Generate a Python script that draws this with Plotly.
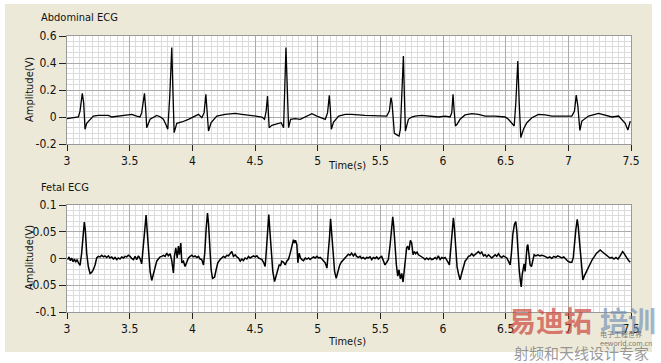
import plotly.graph_objects as go

# ---------------- data ----------------
abd_t = [3.000, 3.037, 3.091, 3.104, 3.122, 3.133, 3.144, 3.157, 3.184, 3.210, 3.250, 3.330, 3.357, 3.423,
         3.490, 3.517, 3.556, 3.583, 3.596, 3.618, 3.628, 3.636, 3.663, 3.690, 3.716, 3.743, 3.769, 3.788,
         3.804, 3.820, 3.836, 3.844, 3.855, 3.876, 3.916, 3.969, 4.022, 4.049, 4.076, 4.094, 4.108, 4.118,
         4.129, 4.150, 4.195, 4.262, 4.342, 4.395, 4.488, 4.555, 4.576, 4.589, 4.600, 4.608, 4.613, 4.634,
         4.675, 4.709, 4.728, 4.736, 4.747, 4.757, 4.768, 4.784, 4.821, 4.861, 4.914, 4.954, 4.994, 5.061,
         5.079, 5.093, 5.101, 5.109, 5.127, 5.167, 5.220, 5.271, 5.378, 5.511, 5.551, 5.572, 5.585, 5.593,
         5.601, 5.612, 5.639, 5.649, 5.660, 5.671, 5.684, 5.692, 5.700, 5.710, 5.724, 5.750, 5.777, 5.830,
         5.910, 5.963, 6.017, 6.057, 6.070, 6.080, 6.088, 6.099, 6.112, 6.136, 6.176, 6.230, 6.283, 6.336,
         6.416, 6.496, 6.522, 6.549, 6.568, 6.581, 6.597, 6.608, 6.621, 6.642, 6.669, 6.709, 6.762, 6.815,
         6.868, 6.948, 7.028, 7.049, 7.063, 7.076, 7.092, 7.108, 7.161, 7.241, 7.294, 7.348, 7.401, 7.427,
         7.454, 7.475, 7.486, 7.494]
abd_v = [-0.012, -0.005, 0.000, 0.044, 0.175, 0.106, -0.091, -0.047, -0.017, 0.007, 0.012, 0.012, 0.000, 0.007,
         0.012, 0.020, 0.007, 0.000, 0.032, 0.175, 0.057, -0.079, -0.017, 0.000, 0.012, 0.002, -0.017, -0.054,
         -0.091, 0.156, 0.514, 0.230, -0.116, -0.047, -0.037, -0.017, 0.007, 0.020, -0.005, 0.032, 0.168, 0.057,
         -0.104, -0.042, 0.007, 0.020, 0.027, 0.020, 0.007, 0.000, -0.017, 0.044, 0.156, 0.032, -0.079, -0.062,
         -0.054, -0.042, -0.079, 0.156, 0.514, 0.230, -0.079, -0.017, -0.012, -0.017, 0.007, 0.025, 0.007, -0.017,
         0.032, 0.160, 0.057, -0.091, -0.037, 0.007, 0.020, 0.020, 0.012, 0.007, 0.007, 0.044, 0.143, 0.106,
         -0.012, -0.121, -0.136, -0.141, -0.091, 0.156, 0.452, 0.156, -0.104, -0.067, -0.017, 0.000, 0.007, 0.012,
         0.007, 0.000, 0.007, 0.000, 0.032, 0.168, 0.057, -0.067, -0.054, -0.017, 0.015, 0.025, 0.020, 0.007,
         0.007, 0.000, -0.017, -0.042, -0.067, 0.106, 0.415, 0.106, -0.153, -0.091, -0.042, -0.005, 0.020, 0.015,
         0.007, 0.007, 0.007, 0.044, 0.163, 0.081, -0.099, -0.030, 0.007, 0.027, 0.012, 0.000, 0.007, -0.017,
         -0.047, -0.096, -0.047, -0.030]

fet_t = [3.005, 3.016, 3.027, 3.037, 3.048, 3.059, 3.069, 3.080, 3.091, 3.104, 3.117, 3.128, 3.138, 3.146,
         3.157, 3.170, 3.184, 3.197, 3.210, 3.224, 3.237, 3.250, 3.264, 3.277, 3.290, 3.303, 3.317, 3.330,
         3.343, 3.357, 3.370, 3.383, 3.397, 3.410, 3.423, 3.437, 3.450, 3.463, 3.476, 3.490, 3.503, 3.516,
         3.530, 3.543, 3.556, 3.570, 3.583, 3.596, 3.607, 3.618, 3.631, 3.639, 3.650, 3.663, 3.676, 3.689,
         3.703, 3.716, 3.729, 3.743, 3.756, 3.769, 3.783, 3.796, 3.809, 3.823, 3.836, 3.849, 3.857, 3.868,
         3.879, 3.889, 3.897, 3.908, 3.916, 3.929, 3.942, 3.956, 3.969, 3.982, 3.996, 4.009, 4.022, 4.036,
         4.049, 4.062, 4.075, 4.089, 4.099, 4.110, 4.121, 4.129, 4.139, 4.150, 4.161, 4.177, 4.190, 4.203,
         4.222, 4.235, 4.248, 4.262, 4.275, 4.288, 4.302, 4.315, 4.328, 4.342, 4.355, 4.368, 4.382, 4.395,
         4.408, 4.421, 4.435, 4.448, 4.461, 4.475, 4.488, 4.501, 4.515, 4.528, 4.541, 4.555, 4.568, 4.581,
         4.589, 4.600, 4.610, 4.618, 4.629, 4.642, 4.656, 4.669, 4.682, 4.693, 4.704, 4.714, 4.728, 4.741,
         4.754, 4.768, 4.781, 4.789, 4.800, 4.807, 4.815, 4.823, 4.834, 4.842, 4.852, 4.863, 4.874, 4.887,
         4.901, 4.914, 4.927, 4.940, 4.954, 4.967, 4.980, 4.994, 5.007, 5.020, 5.034, 5.047, 5.060, 5.074,
         5.084, 5.095, 5.103, 5.111, 5.122, 5.135, 5.148, 5.162, 5.175, 5.188, 5.207,
         5.218, 5.231, 5.245, 5.258, 5.271, 5.285, 5.298, 5.311, 5.324, 5.338, 5.351, 5.364, 5.378, 5.391,
         5.404, 5.418, 5.431, 5.444, 5.458, 5.471, 5.484, 5.498, 5.511, 5.524, 5.537, 5.551, 5.564, 5.577,
         5.588, 5.599, 5.607, 5.617, 5.628, 5.639, 5.649, 5.660, 5.671, 5.681, 5.692, 5.702, 5.710, 5.718,
         5.729, 5.740, 5.750, 5.761, 5.772, 5.782, 5.793, 5.804, 5.817, 5.830, 5.844, 5.857, 5.870, 5.884,
         5.897, 5.910, 5.923, 5.937, 5.950, 5.963, 5.977, 5.990, 6.003, 6.017, 6.030, 6.043, 6.051, 6.062,
         6.073, 6.083, 6.091, 6.102, 6.112, 6.123, 6.136, 6.150, 6.163, 6.176, 6.190, 6.203, 6.216, 6.230,
         6.243, 6.256, 6.269, 6.283, 6.296, 6.309, 6.323, 6.336, 6.349, 6.363, 6.376, 6.389, 6.403, 6.416,
         6.429, 6.443, 6.456, 6.469, 6.482, 6.496, 6.509, 6.522, 6.536, 6.546, 6.557, 6.570, 6.581, 6.589,
         6.597, 6.608, 6.618, 6.624, 6.632, 6.640, 6.647, 6.655, 6.663, 6.671, 6.677, 6.685, 6.695, 6.706,
         6.717, 6.727, 6.741, 6.757, 6.773, 6.789, 6.805, 6.820, 6.836, 6.852, 6.868, 6.884, 6.900, 6.916,
         6.932, 6.948, 6.964, 6.980, 6.996, 7.012, 7.028, 7.039, 7.049, 7.060, 7.071, 7.079, 7.089, 7.100,
         7.108, 7.116, 7.129, 7.145, 7.161, 7.177, 7.193, 7.209, 7.225, 7.241, 7.254, 7.268, 7.284, 7.300,
         7.316, 7.332, 7.348, 7.364, 7.380, 7.396, 7.411, 7.422, 7.433, 7.443, 7.454, 7.467, 7.481, 7.494]
fet_v = [-0.002, 0.003, -0.004, 0.001, -0.006, -0.001, -0.007, -0.002, -0.008, -0.013, 0.010, 0.045, 0.068, 0.054,
         0.010, -0.015, -0.028, -0.026, -0.021, -0.012, 0.001, 0.004, 0.003, 0.006, 0.003, 0.005, 0.002, 0.005,
         0.001, 0.003, -0.001, 0.002, -0.002, 0.001, -0.001, 0.003, 0.001, 0.004, 0.003, 0.006, 0.004, 0.000,
         -0.002, 0.004, -0.002, 0.005, 0.000, -0.010, 0.017, 0.054, 0.081, 0.054, 0.010, -0.024, -0.041, -0.030,
         -0.013, -0.005, -0.001, 0.003, 0.004, 0.006, 0.004, 0.010, 0.005, 0.009, -0.004, -0.027, 0.004, 0.020,
         0.001, 0.023, 0.007, 0.029, -0.008, -0.005, -0.015, -0.005, 0.001, 0.004, 0.006, 0.003, 0.005, 0.002,
         0.004, -0.001, -0.002, -0.012, 0.010, 0.054, 0.085, 0.066, 0.010, -0.021, -0.037, -0.035, -0.021, -0.008,
         -0.002, 0.001, 0.004, 0.002, 0.006, 0.005, 0.010, 0.013, 0.004, 0.007, 0.003, 0.001, -0.005, -0.001,
         -0.004, 0.001, -0.001, 0.004, 0.001, 0.003, 0.005, 0.003, 0.005, 0.001, -0.001, -0.002, -0.007, -0.015,
         0.010, 0.048, 0.082, 0.054, 0.010, -0.024, -0.043, -0.030, -0.021, -0.012, -0.013, -0.005, -0.007, -0.012,
         -0.005, -0.001, 0.010, 0.020, 0.030, 0.035, 0.029, 0.034, 0.026, -0.008, 0.010, 0.001, -0.002, -0.004,
         0.001, -0.001, 0.001, -0.002, 0.001, 0.003, 0.001, 0.004, 0.001, 0.002, -0.001, -0.005, -0.008, -0.018,
         0.004, 0.041, 0.074, 0.048, 0.010, -0.024, -0.037, -0.024, -0.013, -0.007, -0.002,
         0.001, 0.005, 0.008, 0.006, 0.010, 0.005, 0.009, 0.004, 0.002, 0.004, 0.000, 0.002, -0.001, 0.002,
         0.001, 0.003, -0.002, 0.002, 0.000, 0.003, -0.001, 0.002, 0.004, -0.004, -0.012, -0.007, -0.002, 0.023,
         0.054, 0.078, 0.060, 0.023, -0.012, -0.033, -0.021, -0.038, -0.028, -0.044, -0.021, 0.004, 0.020, 0.023,
         0.016, 0.034, 0.029, 0.007, 0.013, 0.009, 0.012, 0.007, 0.005, 0.004, 0.001, -0.002, 0.001, -0.002,
         0.001, -0.002, -0.001, 0.002, -0.001, 0.005, -0.002, 0.002, 0.000, 0.002, -0.002, -0.008, -0.012, 0.016,
         0.048, 0.076, 0.057, 0.016, -0.015, -0.028, -0.040, -0.027, -0.015, -0.005, -0.001, 0.004, 0.005, 0.009,
         0.005, 0.007, 0.010, 0.013, 0.009, 0.012, 0.005, 0.007, 0.003, 0.007, 0.004, 0.001, 0.004, 0.007,
         0.004, 0.009, 0.004, 0.002, 0.005, 0.003, 0.001, -0.005, -0.012, 0.010, 0.045, 0.064, 0.069, 0.051,
         0.016, -0.021, -0.043, -0.053, -0.030, -0.018, -0.010, -0.024, 0.004, 0.023, 0.026, 0.001, -0.012, -0.015,
         0.001, 0.007, 0.005, 0.007, 0.005, 0.006, 0.005, 0.003, 0.001, 0.003, 0.000, 0.004, 0.002, 0.005,
         0.003, 0.001, 0.003, -0.002, -0.005, -0.007, -0.007, 0.001, 0.029, 0.054, 0.073, 0.060, 0.032, -0.005,
         -0.030, -0.040, -0.032, -0.024, -0.016, -0.007, -0.001, 0.004, 0.010, 0.013, 0.016, 0.013, 0.010, 0.007,
         0.004, 0.001, 0.002, -0.001, 0.002, -0.001, 0.004, 0.009, 0.013, 0.010, 0.005, 0.001, -0.004, -0.007]

x_ticks = [3, 3.5, 4, 4.5, 5, 5.5, 6, 6.5, 7, 7.5]
x_labels = ["3", "3.5", "4", "4.5", "5", "5.5", "6", "6.5", "7", "7.5"]
abd_ticks = [-0.2, 0, 0.2, 0.4, 0.6]
abd_labels = ["-0.2", "0", "0.2", "0.4", "0.6"]
fet_ticks = [-0.1, -0.05, 0, 0.05, 0.1]
fet_labels = ["-0.1", "-0.05", "0", "0.05", "0.1"]

# ---------------- figure ----------------
FONT = "Tahoma, 'DejaVu Sans Condensed', 'Liberation Sans', Arial, sans-serif"
W, H = 661, 363
L, R, T, B = 67, 30, 36, 51
PW, PH = W - L - R, H - T - B


def px(x):
    return (x - L) / PW


def py(y):
    return (H - B - y) / PH


fig = go.Figure()
fig.add_trace(go.Scatter(x=abd_t, y=abd_v, mode="lines", line=dict(color="black", width=1.3),
                         xaxis="x", yaxis="y", showlegend=False, hoverinfo="skip"))
fig.add_trace(go.Scatter(x=fet_t, y=fet_v, mode="lines", line=dict(color="black", width=1.5),
                         xaxis="x2", yaxis="y2", showlegend=False, hoverinfo="skip"))

common_x = dict(range=[3, 7.5], tickvals=x_ticks, ticktext=x_labels, showgrid=True,
                gridcolor="#ababab", gridwidth=1, zeroline=False, ticks="outside", ticklen=6,
                tickcolor="#222", showline=True, linecolor="#9a9a9a", mirror=True,
                tickfont=dict(family=FONT, size=12, color="#111"),
                minor=dict(dtick=0.05, showgrid=True, gridcolor="#dcdcdc", ticks=""))
common_y = dict(showgrid=True, gridcolor="#ababab", gridwidth=1, zeroline=False, ticks="outside",
                ticklen=7, tickcolor="#222", showline=True, linecolor="#9a9a9a", mirror=True,
                tickfont=dict(family=FONT, size=12, color="#111"))

top_dom = [py(144), 1.0]
bot_dom = [0.0, py(205)]

fig.update_layout(
    width=W, height=H,
    margin=dict(l=L, r=R, t=T, b=B, autoexpand=False),
    paper_bgcolor="white", plot_bgcolor="white",
    font=dict(family=FONT, size=12, color="#111"),
    xaxis=dict(anchor="y", domain=[0, 1], **common_x),
    yaxis=dict(anchor="x", domain=top_dom, range=[-0.2, 0.6], tickvals=abd_ticks, ticktext=abd_labels,
               minor=dict(dtick=0.04, showgrid=True, gridcolor="#dcdcdc", ticks=""), **common_y),
    xaxis2=dict(anchor="y2", domain=[0, 1], **common_x),
    yaxis2=dict(anchor="x2", domain=bot_dom, range=[-0.1, 0.1], tickvals=fet_ticks, ticktext=fet_labels,
                minor=dict(dtick=0.01, showgrid=True, gridcolor="#dcdcdc", ticks=""), **common_y),
    shapes=[
        dict(type="rect", xref="paper", yref="paper", x0=px(5), x1=px(652), y0=py(352), y1=py(4),
             fillcolor="#ECE9D8", line=dict(width=0), layer="below"),
        dict(type="rect", xref="x domain", yref="y domain", x0=0, x1=1, y0=0, y1=1,
             fillcolor="white", line=dict(width=0), layer="below"),
        dict(type="rect", xref="x2 domain", yref="y2 domain", x0=0, x1=1, y0=0, y1=1,
             fillcolor="white", line=dict(width=0), layer="below"),
    ],
)

ann = [
    dict(text="Abdominal ECG", x=px(39), y=py(18), xanchor="left"),
    dict(text="Fetal ECG", x=px(39), y=py(187), xanchor="left"),
    dict(text="Time(s)", x=px(347), y=py(165), xanchor="center"),
    dict(text="Time(s)", x=px(347), y=py(341), xanchor="center"),
]
for a in ann:
    fig.add_annotation(text=a["text"], xref="paper", yref="paper", x=a["x"], y=a["y"],
                       xanchor=a["xanchor"], yanchor="middle", showarrow=False,
                       font=dict(family=FONT, size=11, color="#111"))
for yc in (90, 258):
    fig.add_annotation(text="Amplitude(V)", xref="paper", yref="paper", x=px(29), y=py(yc),
                       textangle=-90, xanchor="center", yanchor="middle", showarrow=False,
                       font=dict(family=FONT, size=11, color="#111"))

# watermark seen in the picture
fig.add_annotation(text="<b>易迪拓</b>", xref="paper", yref="paper", x=px(506), y=py(320),
                   xanchor="left", yanchor="middle", showarrow=False,
                   font=dict(family="Noto Sans CJK SC", size=28, color="rgba(205,70,60,0.7)"))
fig.add_annotation(text="<b>培训</b>", xref="paper", yref="paper", x=px(598), y=py(320),
                   xanchor="left", yanchor="middle", showarrow=False,
                   font=dict(family="Noto Sans CJK SC", size=28, color="rgba(110,140,180,0.65)"))
fig.add_annotation(text="电子工程世界<br>eeworld.com.cn", xref="paper", yref="paper", x=px(598), y=py(338),
                   xanchor="left", yanchor="middle", align="left", showarrow=False,
                   font=dict(family="Noto Sans CJK SC", size=7, color="rgba(90,90,90,0.8)"))
fig.add_annotation(text="射频和天线设计专家", xref="paper", yref="paper", x=px(581), y=py(352),
                   xanchor="center", yanchor="middle", showarrow=False,
                   font=dict(family="Noto Sans CJK SC", size=15, color="rgba(120,120,120,0.75)"))

fig.write_html("out.html")
